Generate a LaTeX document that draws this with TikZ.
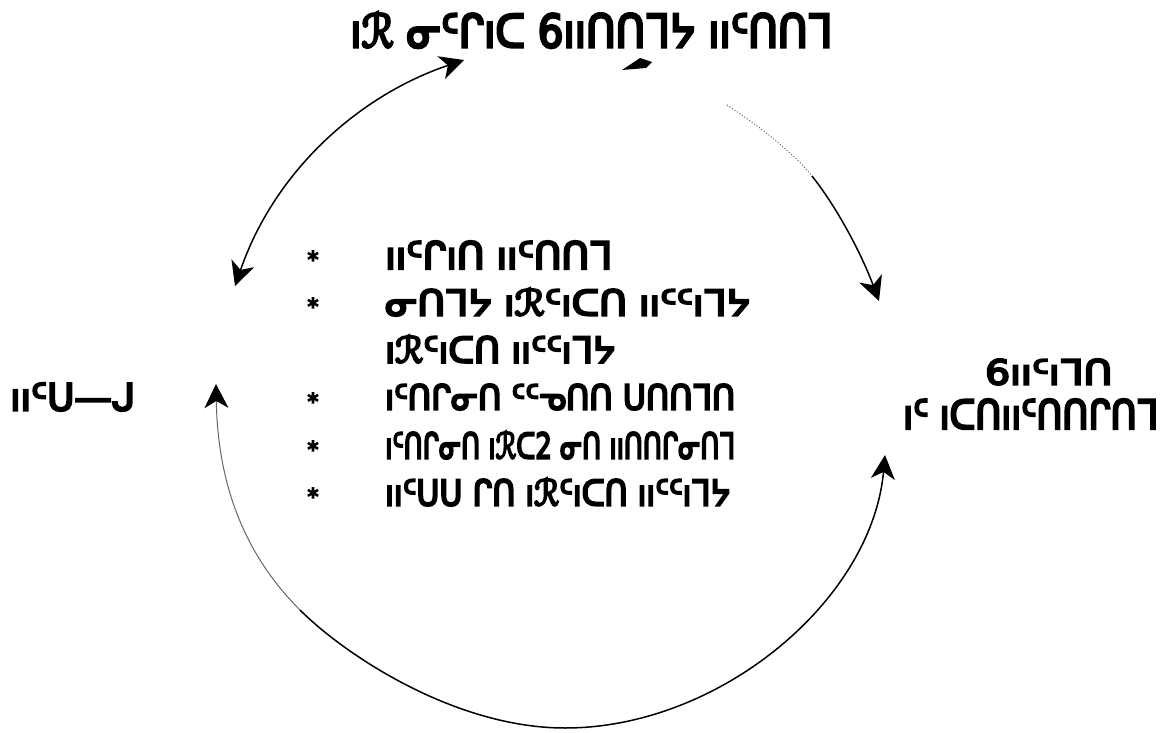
\documentclass[tikz,border=0pt]{standalone}
\usepackage{fontspec}
\usepackage{graphicx}
\newfontfamily\gl[FakeBold=6]{DejaVu Sans}
\usetikzlibrary{arrows.meta}
\tikzset{
  glyph/.style={inner sep=0pt, anchor=west},
  arcline/.style={line width=1.5pt, black},
  faint/.style={line width=1pt, black!60},
  star/.style={inner sep=0pt, font=\gl\fontsize{22}{22}\selectfont},
  hw/.tip={Stealth[length=24pt,width=24pt,inset=7pt,black]}
}
\newcommand{\gtxt}[3]{\resizebox*{#1pt}{#2pt}{\gl #3}}
\begin{document}
\begin{tikzpicture}[x=1pt,y=-1pt]
\useasboundingbox (0,0) rectangle (1168,733);
% title
\node[glyph] (title) at (350,30) {\gtxt{482}{36}{ıℛ ᓂᑦᒋıᑕ  6ııᑎᑎᒣᔭ  ııᑦᑎᑎᒣ}};
% list rows
\node[star] (s1) at (313,259) {*};
\node[glyph] (r1) at (385,255) {\gtxt{227}{28}{ııᑦᒋıᑎ  ııᑦᑎᑎᒣ}};
\node[star] (s2) at (313,306) {*};
\node[glyph] (r2) at (385,302) {\gtxt{365}{28}{ᓂᑎᒣᔭ  ıℛᑦıᑕᑎ  ııᑦᑦıᒣᔭ}};
\node[glyph] (r3) at (385,349) {\gtxt{230}{28}{ıℛᑦıᑕᑎ  ııᑦᑦıᒣᔭ}};
\node[star] (s4) at (313,401) {*};
\node[glyph] (r4) at (385,397) {\gtxt{350}{26}{ıᑦᑎᒋᓂᑎ  ᑦᑦᓀᑎᑎ  ᑌᑎᑎᒣᑎ}};
\node[star] (s5) at (313,449) {*};
\node[glyph] (r5) at (385,445) {\gtxt{350}{28}{ıᑦᑎᒋᓂᑎ  ıℛᑕ2  ᓂᑎ  ııᑎᑎᒋᓂᑎᒣ}};
\node[star] (s6) at (313,496) {*};
\node[glyph] (r6) at (385,492) {\gtxt{345}{28}{ııᑦᑌᑌ  ᒋᑎ  ıℛᑦıᑕᑎ  ııᑦᑦıᒣᔭ}};
% side labels
\node[glyph] (left) at (10,397) {\gtxt{125}{28}{ııᑦᑌ—ᒍ}};
\node[glyph] (right1) at (985,372) {\gtxt{127}{26}{6ııᑦıᒣᑎ}};
\node[glyph] (right2) at (903,414) {\gtxt{255}{30}{ıᑦ ıᑕᑎııᑦᑎᑎᒋᑎᒣ}};
% arc end points
\coordinate (lt) at (464,60);
\coordinate (lb) at (235,286);
\coordinate (rt) at (727,105);
\coordinate (rm) at (812,176);
\coordinate (rb) at (879,301);
\coordinate (bl) at (216,384);
\coordinate (bq) at (300,610);
\coordinate (bm) at (565,728);
\coordinate (br) at (885,455);
% left double arrow
\draw[arcline, hw-hw] (lb) .. controls (275,170) and (360,95) .. (lt);
% right arrow (faint start)
\draw[faint, dotted] (rt) .. controls (765,130) and (795,155) .. (rm);
\draw[arcline, -hw] (rm) .. controls (835,205) and (860,250) .. (rb);
% bottom double arrow
\draw[faint, hw-] (bl) .. controls (218,500) and (255,565) .. (bq);
\draw[arcline] (bq) .. controls (345,655) and (455,728) .. (bm);
\draw[arcline, -hw] (bm) .. controls (720,728) and (872,600) .. (br);
% stray blob under title
\fill (622,70) -- (640,58) -- (652,62) -- (646,68) -- cycle;
\end{tikzpicture}
\end{document}
